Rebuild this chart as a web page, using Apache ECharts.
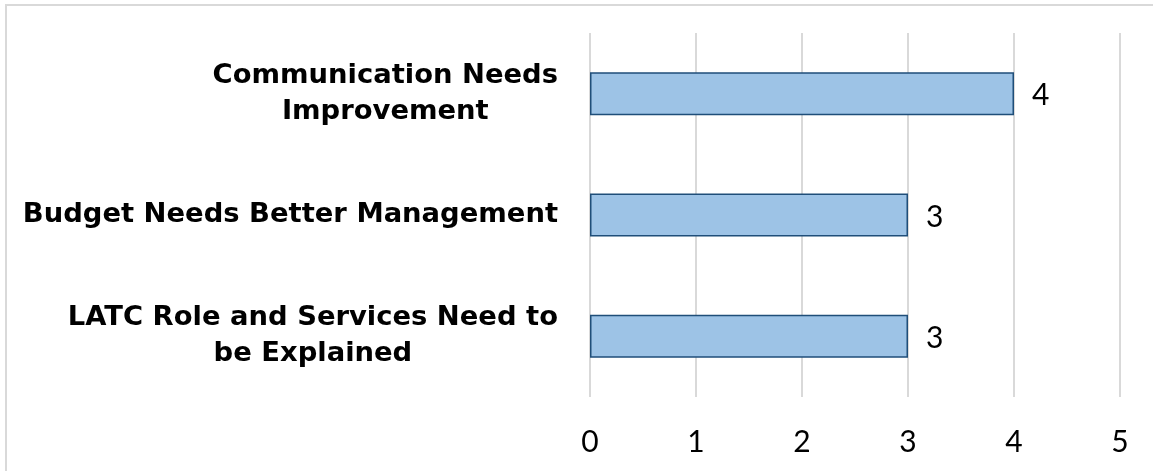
<!DOCTYPE html>
<html>
<head>
<meta charset="utf-8">
<script src="https://cdn.jsdelivr.net/npm/echarts@6/dist/echarts.min.js"></script>
<style>
  html, body { margin: 0; padding: 0; background: #fff; }
  #chart { width: 1153px; height: 471px; }
</style>
</head>
<body>
<div id="chart"></div>
<script>
const categories = [
  'Communication Needs\nImprovement',
  'Budget Needs Better Management',
  'LATC Role and Services Need to\nbe Explained'
];
const values = [4, 3, 3];
const xTicks = [0, 1, 2, 3, 4, 5];

const chart = echarts.init(document.getElementById('chart'), null, { renderer: 'canvas' });

chart.setOption({
  animation: false,
  backgroundColor: '#ffffff',
  graphic: [{
    type: 'rect',
    shape: { x: 6, y: 5, width: 1200, height: 600 },
    style: { fill: 'none', stroke: '#d9d9d9', lineWidth: 2 },
    silent: true,
    z: -1
  }],
  grid: { left: 590, right: 33, top: 33, bottom: 74, containLabel: false },
  xAxis: {
    type: 'value',
    min: xTicks[0],
    max: xTicks[xTicks.length - 1],
    interval: 1,
    axisLine: { show: false },
    axisTick: { show: false },
    splitLine: { show: true, lineStyle: { color: '#d9d9d9', width: 2 } },
    axisLabel: {
      margin: 30,
      fontFamily: 'Lato',
      fontSize: 30,
      color: '#000',
      formatter: v => String(v)
    }
  },
  yAxis: {
    type: 'category',
    inverse: true,
    data: categories,
    axisLine: { show: false },
    axisTick: { show: false },
    axisLabel: {
      margin: 32,
      align: 'right',
      formatter: v => v.split('\n').map(s => '{a|' + s + '}').join('\n'),
      rich: {
        a: {
          fontFamily: 'DejaVu Sans',
          fontWeight: 'bold',
          fontSize: 27.4,
          lineHeight: 36,
          color: '#000',
          align: 'center'
        }
      }
    }
  },
  series: [{
    type: 'bar',
    data: values,
    barWidth: 43,
    itemStyle: { color: '#9dc3e6', borderColor: '#1f4e79', borderWidth: 1.5 },
    label: {
      show: true,
      position: 'right',
      distance: 18,
      fontFamily: 'Lato',
      fontSize: 30,
      color: '#000',
      offset: [0, 2]
    }
  }]
});
</script>
</body>
</html>
